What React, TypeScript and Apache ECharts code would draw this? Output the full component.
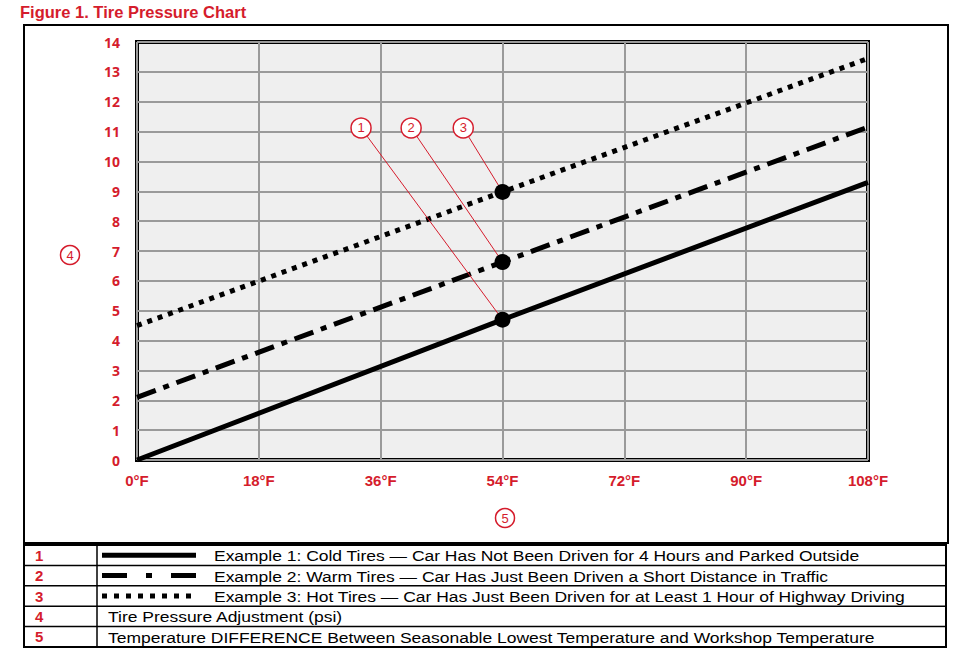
import React, { useEffect, useRef } from "react";
import * as echarts from "echarts";

const TITLE = "Figure 1. Tire Pressure Chart";
const temps = [0, 54, 108];
const coldTires = [0, 4.7, 9.3];
const warmTires = [2.1, 6.63, 11.15];
const hotTires = [4.5, 8.98, 13.45];
const xTickLabels = ["0°F", "18°F", "36°F", "54°F", "72°F", "90°F", "108°F"];
const calloutLabels = ["1", "2", "3"];
const calloutX = [33.1, 40.5, 48.2];
const calloutY = 11.12;
const legendNums = ["1", "2", "3", "4", "5"];
const legendTexts = [
  "Example 1: Cold Tires — Car Has Not Been Driven for 4 Hours and Parked Outside",
  "Example 2: Warm Tires — Car Has Just Been Driven a Short Distance in Traffic",
  "Example 3: Hot Tires — Car Has Just Been Driven for at Least 1 Hour of Highway Driving",
  "Tire Pressure Adjustment (psi)",
  "Temperature DIFFERENCE Between Seasonable Lowest Temperature and Workshop Temperature",
];

const RED = "#d51c2c";

export default function App() {
  const ref = useRef<HTMLDivElement>(null);
  useEffect(() => {
    if (!ref.current) return;
    const chart = echarts.init(ref.current, null, { renderer: "svg" });
    const seriesSets = [coldTires, warmTires, hotTires];
    const dashTypes: any[] = ["solid", [20, 8, 6, 8], [5, 6]];
    const lineSeries = seriesSets.map((vals, i) => ({
      type: "line",
      data: temps.map((t, j) => [t, vals[j]]),
      showSymbol: false,
      symbol: "none",
      lineStyle: { color: "#000", width: 5, type: dashTypes[i], cap: "butt" },
      z: 3,
      silent: true,
    }));
    const midIdx = 1;
    const markerSeries = {
      type: "scatter",
      data: seriesSets.map((vals) => [temps[midIdx], vals[midIdx]]),
      symbol: "circle",
      symbolSize: 16,
      itemStyle: { color: "#000", opacity: 1 },
      z: 5,
    };
    const calloutLines = {
      type: "lines",
      coordinateSystem: "cartesian2d",
      data: seriesSets.map((vals, i) => ({
        coords: [
          [calloutX[i], calloutY],
          [temps[midIdx], vals[midIdx]],
        ],
      })),
      lineStyle: { color: RED, width: 1, opacity: 1 },
      z: 4,
    };
    const callouts = {
      type: "scatter",
      data: calloutLabels.map((l, i) => [calloutX[i], calloutY, l]),
      symbol: "circle",
      symbolSize: 20,
      itemStyle: { color: "#fff", borderColor: RED, borderWidth: 1.5, opacity: 1 },
      label: {
        show: true,
        position: "inside",
        formatter: (p: any) => p.value[2],
        color: RED,
        fontSize: 13,
        fontFamily: "Arial, Liberation Sans, sans-serif",
      },
      z: 6,
    };

    const rowTop = 545;
    const rowH = 20.4;
    const tableGraphics: any[] = [];
    tableGraphics.push({
      type: "rect",
      shape: { x: 24, y: rowTop, width: 922, height: rowH * 5 },
      style: { fill: "#fff", stroke: "#000", lineWidth: 2 },
    });
    for (let i = 1; i < 5; i++) {
      tableGraphics.push({
        type: "line",
        shape: { x1: 24, y1: rowTop + rowH * i, x2: 946, y2: rowTop + rowH * i },
        style: { stroke: "#000", lineWidth: 1.5 },
      });
    }
    tableGraphics.push({
      type: "line",
      shape: { x1: 97, y1: rowTop, x2: 97, y2: rowTop + rowH * 5 },
      style: { stroke: "#000", lineWidth: 1.5 },
    });
    legendNums.forEach((n, i) => {
      const cy = rowTop + rowH * i + rowH / 2;
      tableGraphics.push({
        type: "text",
        x: 35,
        y: cy,
        style: {
          text: n,
          fill: RED,
          font: "bold 15px Arial, Liberation Sans, sans-serif",
          verticalAlign: "middle",
        },
      });
      tableGraphics.push({
        type: "text",
        x: i < 3 ? 214 : 108,
        y: cy + 0.5,
        scaleX: 1.165,
        style: {
          text: legendTexts[i],
          fill: "#000",
          font: "15px Arial, Liberation Sans, sans-serif",
          verticalAlign: "middle",
        },
      });
      if (i < 3) {
        tableGraphics.push({
          type: "line",
          shape: { x1: 102, y1: cy, x2: 196, y2: cy },
          style: {
            stroke: "#000",
            lineWidth: 5,
            lineDash: i === 0 ? null : i === 1 ? [25, 19, 6, 19] : [5, 7],
            lineCap: "butt",
          },
        });
      }
    });

    const circleLabel = (cx: number, cy: number, t: string) => [
      {
        type: "circle",
        shape: { cx, cy, r: 9.5 },
        style: { fill: "#fff", stroke: RED, lineWidth: 1.5 },
      },
      {
        type: "text",
        x: cx,
        y: cy,
        style: {
          text: t,
          fill: RED,
          font: "13px Arial, Liberation Sans, sans-serif",
          align: "center",
          verticalAlign: "middle",
        },
      },
    ];

    chart.setOption({
      animation: false,
      backgroundColor: "#fff",
      grid: {
        left: 137,
        top: 42,
        width: 731,
        height: 418,
        show: true,
        backgroundColor: "#efefef",
        borderColor: "#000",
        borderWidth: 4,
      },
      xAxis: {
        type: "value",
        min: 0,
        max: 108,
        interval: 18,
        axisLine: { show: false },
        axisTick: { show: false },
        splitLine: { show: true, lineStyle: { color: "#9a9a9a", width: 2 } },
        axisLabel: {
          margin: 13,
          color: RED,
          fontWeight: "bold",
          fontSize: 15,
          fontFamily: "Arial, Liberation Sans, sans-serif",
          formatter: (v: number) => xTickLabels[Math.round(v / 18)],
        },
      },
      yAxis: {
        type: "value",
        min: 0,
        max: 14,
        interval: 1,
        axisLine: { show: false },
        axisTick: { show: false },
        splitLine: { show: true, lineStyle: { color: "#9a9a9a", width: 2 } },
        axisLabel: {
          margin: 17,
          color: RED,
          fontWeight: "bold",
          fontSize: 14,
          fontFamily: "Open Sans, Arial, sans-serif",
        },
      },
      graphic: [
        {
          type: "text",
          x: 20,
          y: 3,
          style: {
            text: TITLE,
            fill: RED,
            font: "bold 16.5px Arial, Liberation Sans, sans-serif",
          },
        },
        {
          type: "rect",
          shape: { x: 24, y: 25, width: 924, height: 518 },
          style: { fill: "none", stroke: "#000", lineWidth: 2 },
          z: 0,
        },
        ...circleLabel(70, 255, "4"),
        ...circleLabel(505, 518, "5"),
        ...tableGraphics,
      ],
      series: [...lineSeries, calloutLines, markerSeries, callouts],
    });
    return () => chart.dispose();
  }, []);
  return (
    <div
      ref={ref}
      style={{ position: "fixed", left: 0, top: 0, width: 963, height: 669 }}
    />
  );
}
